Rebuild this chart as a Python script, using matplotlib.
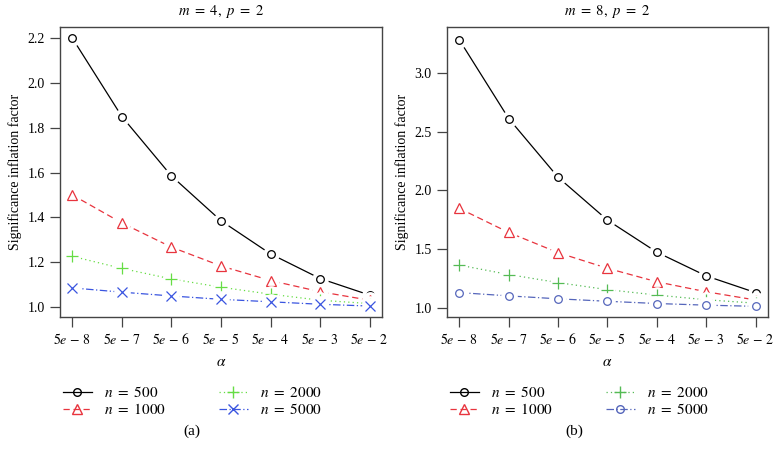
import numpy as np
import matplotlib
matplotlib.use('Agg')
import matplotlib.pyplot as plt

plt.rcParams['font.family'] = ['Liberation Serif', 'DejaVu Serif']
plt.rcParams['mathtext.fontset'] = 'stix'

alpha_labels = [r'$5e\,-\,8$', r'$5e\,-\,7$', r'$5e\,-\,6$', r'$5e\,-\,5$',
                r'$5e\,-\,4$', r'$5e\,-\,3$', r'$5e\,-\,2$']
n_labels = ['$n\\ =\\ 500$', '$n\\ =\\ 1000$', '$n\\ =\\ 2000$', '$n\\ =\\ 5000$']

# m = 4, p = 2
sif_m4_n500 = [2.20, 1.85, 1.585, 1.385, 1.237, 1.127, 1.053]
sif_m4_n1000 = [1.50, 1.375, 1.267, 1.183, 1.118, 1.068, 1.030]
sif_m4_n2000 = [1.226, 1.172, 1.125, 1.088, 1.057, 1.030, 1.015]
sif_m4_n5000 = [1.085, 1.066, 1.049, 1.034, 1.023, 1.012, 1.004]

# m = 8, p = 2
sif_m8_n500 = [3.28, 2.61, 2.11, 1.745, 1.472, 1.27, 1.128]
sif_m8_n1000 = [1.845, 1.64, 1.468, 1.335, 1.22, 1.135, 1.065]
sif_m8_n2000 = [1.362, 1.282, 1.213, 1.153, 1.107, 1.067, 1.038]
sif_m8_n5000 = [1.128, 1.10, 1.075, 1.054, 1.035, 1.021, 1.011]

red = '#e8343e'
msize = {'o': 5.5, '^': 6.5, '+': 8, 'x': 6.5}


def panel(ax, series, styles, title, yticks, ylim):
    x = np.arange(len(alpha_labels))
    for k, (y, st) in enumerate(zip(series, styles)):
        col, mk, ls = st
        z = 3 + k * 3
        ax.plot(x, y, color=col, ls=ls, lw=0.9, zorder=z)
        # R type="b": small gap around each point
        ax.plot(x, y, ls='none', marker='o', ms=12, mfc='white', mec='none', zorder=z + 1)
        ax.plot(x, y, ls='none', marker=mk, ms=msize[mk], mfc='none', mec=col, mew=0.9,
                zorder=z + 2)
    ax.set_xticks(x)
    ax.set_xticklabels(alpha_labels)
    ax.set_yticks(yticks)
    ax.set_yticklabels(['%.1f' % t for t in yticks])
    ax.set_xlim(-0.25, len(x) - 0.75)
    ax.set_ylim(*ylim)
    ax.set_xlabel(r'$\alpha$', fontsize=11, labelpad=6)
    ax.set_ylabel('Significance inflation factor', fontsize=10, labelpad=4)
    ax.set_title(title, fontsize=10.5, pad=9)
    ax.tick_params(direction='out', length=7, width=0.9, color='#444444',
                   labelsize=10, pad=4)
    for s in ax.spines.values():
        s.set_color('#444444')
        s.set_linewidth(1.0)
    handles = [plt.Line2D([], [], color=c, ls=l, lw=0.9, marker=m, ms=msize[m],
                          mfc='none', mec=c) for c, m, l in styles]
    ax.legend(handles, n_labels, ncol=2, loc='upper left', bbox_to_anchor=(-0.01, -0.215),
              frameon=False, fontsize=11, handlelength=1.9, handletextpad=0.8,
              columnspacing=3.45, labelspacing=0.1, borderaxespad=0)


fig = plt.figure(figsize=(7.77, 4.57), dpi=100)
ax1 = fig.add_axes([0.0772, 0.3063, 0.4144, 0.6346])
ax2 = fig.add_axes([0.5753, 0.3063, 0.4131, 0.6346])

styles1 = [('black', 'o', '-'), (red, '^', (0, (5, 3))),
           ('#66dd44', '+', (0, (1, 2.5))), ('#3a55e0', 'x', (0, (6, 2, 1, 2)))]
styles2 = [('black', 'o', '-'), (red, '^', (0, (5, 3))),
           ('#55bb55', '+', (0, (1, 2.5))), ('#5566bb', 'o', (0, (6, 2, 1, 2)))]

panel(ax1, [sif_m4_n500, sif_m4_n1000, sif_m4_n2000, sif_m4_n5000], styles1,
      '$m\\ =\\ 4,\\ p\\ =\\ 2$', [1.0, 1.2, 1.4, 1.6, 1.8, 2.0, 2.2], (0.955, 2.25))
panel(ax2, [sif_m8_n500, sif_m8_n1000, sif_m8_n2000, sif_m8_n5000], styles2,
      '$m\\ =\\ 8,\\ p\\ =\\ 2$', [1.0, 1.5, 2.0, 2.5, 3.0], (0.92, 3.39))

fig.text(0.247, 0.057, '(a)', ha='center', va='center', fontsize=11)
fig.text(0.739, 0.057, '(b)', ha='center', va='center', fontsize=11)

fig.savefig('out.png', dpi=100)
